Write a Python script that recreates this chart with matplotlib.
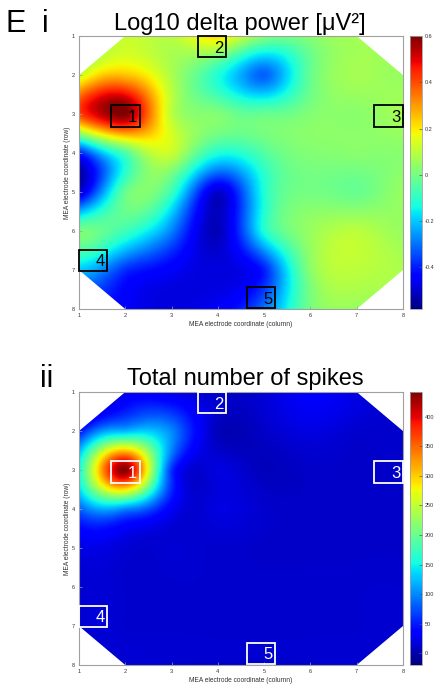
import numpy as np
import matplotlib.pyplot as plt
from matplotlib.patches import Polygon, Rectangle

plt.rcParams['font.family'] = ['Liberation Sans', 'DejaVu Sans']
plt.rcParams['axes.unicode_minus'] = False

nan = np.nan
# 8x8 MEA electrode values, rows 1..8 (top to bottom), columns 1..8; corners have no electrode
delta_power = np.array([
    [nan, 0.12, 0.10, 0.22, 0.03, 0.03, 0.07, nan],
    [0.12, 0.25, 0.08, -0.12, -0.32, -0.02, 0.07, 0.05],
    [0.40, 0.60, 0.10, 0.02, -0.02, 0.02, 0.03, 0.07],
    [-0.40, -0.06, 0.12, -0.12, -0.05, 0.02, 0.03, 0.03],
    [-0.50, -0.02, -0.08, -0.50, -0.12, 0.00, -0.02, 0.05],
    [0.00, -0.08, -0.28, -0.52, -0.12, 0.05, 0.10, 0.05],
    [-0.20, -0.38, -0.45, -0.48, -0.40, 0.03, 0.10, 0.08],
    [nan, -0.45, -0.48, -0.45, -0.30, 0.00, 0.05, nan],
])

spike_count = np.array([
    [nan, 20, 20, 10, 15, 30, 20, nan],
    [40, 120, 100, 5, 10, 20, 12, 10],
    [150, 440, 60, 20, 5, 10, 10, 10],
    [80, 100, 30, 20, 12, 10, 10, 10],
    [20, 15, 15, 12, 10, 10, 10, 10],
    [12, 12, 12, 12, 12, 12, 12, 12],
    [12, 12, 12, 12, 12, 12, 12, 12],
    [nan, 12, 12, 12, 12, 12, 12, nan],
])

power_ticks = [-0.4, -0.2, 0, 0.2, 0.4, 0.6]
power_ticklabels = ['-0.4', '-0.2', '0', '0.2', '0.4', '0.6']
spike_ticks = [0, 50, 100, 150, 200, 250, 300, 350, 400]

# marked electrodes (left, top of each box)
box_labels = ['1', '2', '3', '4', '5']
box_left = [1.70, 3.57, 7.38, 1.00, 4.62]
box_top = [2.77, 1.00, 2.77, 6.48, 7.43]
box_w = 0.61
box_h = 0.55

grey = '#a0a0a0'
NFINE = 141


def biharmonic(data, n):
    # griddata 'v4' style surface through the electrode values
    rows, cols = np.mgrid[1:9, 1:9]
    ok = ~np.isnan(data)
    px, py, v = cols[ok].astype(float), rows[ok].astype(float), data[ok]

    def green(r):
        with np.errstate(divide='ignore', invalid='ignore'):
            g = r**2 * (np.log(r) - 1)
        return np.where(r > 0, g, 0.0)

    d = np.hypot(px[:, None] - px[None, :], py[:, None] - py[None, :])
    w = np.linalg.solve(green(d), v)
    g = np.linspace(1, 8, n)
    gx, gy = np.meshgrid(g, g)
    dd = np.hypot(gx.ravel()[:, None] - px[None, :], gy.ravel()[:, None] - py[None, :])
    return (green(dd) @ w).reshape(n, n)


def panel(ax, cax, data, vmin, vmax, ticks, ticklabels, edge):
    fine = biharmonic(data, NFINE)
    d = 7 / (NFINE - 1)
    im = ax.imshow(fine, cmap='jet', vmin=vmin, vmax=vmax, interpolation='bilinear',
                   extent=[1 - d / 2, 8 + d / 2, 8 + d / 2, 1 - d / 2], aspect='auto')
    clip = Polygon([(2, 1), (7, 1), (8, 2), (8, 7), (7, 8), (2, 8), (1, 7), (1, 2)],
                   closed=True, transform=ax.transData)
    im.set_clip_path(clip)
    ax.set_xlim(1, 8)
    ax.set_ylim(8, 1)
    ax.set_xticks(range(1, 9))
    ax.set_yticks(range(1, 9))
    ax.tick_params(direction='in', length=2, width=0.5, color=grey, labelsize=4,
                   labelcolor='#333333', pad=3)
    for s in ax.spines.values():
        s.set_color(grey)
        s.set_linewidth(0.8)
    ax.set_xlabel('MEA electrode coordinate (column)', fontsize=4.8, color='#333333')
    ax.set_ylabel('MEA electrode coordinate (row)', fontsize=4.8, color='#333333')
    ax.xaxis.set_label_coords(0.5, -0.045)
    ax.yaxis.set_label_coords(-0.025, 0.5)

    for lab, x0, y0 in zip(box_labels, box_left, box_top):
        ax.add_patch(Rectangle((x0, y0), box_w, box_h, fill=False, edgecolor=edge,
                               linewidth=1.3, clip_on=False, zorder=3))
        ax.text(x0 + box_w - 0.05, y0 + box_h / 2, lab, ha='right', va='center_baseline',
                fontsize=12, color=edge, zorder=4)

    cb = plt.colorbar(im, cax=cax, ticks=ticks)
    cb.outline.set_edgecolor(grey)
    cb.outline.set_linewidth(0.6)
    cax.tick_params(direction='in', length=2, width=0.5, color='#555555', labelsize=4,
                    labelcolor='#333333', pad=2)
    if ticklabels is not None:
        cb.set_ticklabels(ticklabels)
    return im


fig = plt.figure(figsize=(4.48, 6.93), dpi=100)

ax1 = fig.add_axes([0.1763, 0.5541, 0.7232, 0.3939])
cax1 = fig.add_axes([0.9152, 0.5541, 0.0268, 0.3939])
panel(ax1, cax1, delta_power, -0.58, 0.60, power_ticks, power_ticklabels, 'black')

ax2 = fig.add_axes([0.1763, 0.0404, 0.7232, 0.3939])
cax2 = fig.add_axes([0.9152, 0.0404, 0.0268, 0.3939])
panel(ax2, cax2, spike_count, -20, 442, spike_ticks, None, 'white')

fig.text(240 / 448, 1 - 30 / 693, 'Log10 delta power [\u03bcV\u00b2]', ha='center',
         va='baseline', fontsize=17)
fig.text(245 / 448, 1 - 385 / 693, 'Total number of spikes', ha='center',
         va='baseline', fontsize=17)
fig.text(5 / 448, 1 - 32 / 693, 'E', ha='left', va='baseline', fontsize=22)
fig.text(42 / 448, 1 - 32 / 693, 'i', ha='left', va='baseline', fontsize=22)
fig.text(40 / 448, 1 - 387 / 693, 'ii', ha='left', va='baseline', fontsize=22)

fig.savefig('out.png', dpi=100)
